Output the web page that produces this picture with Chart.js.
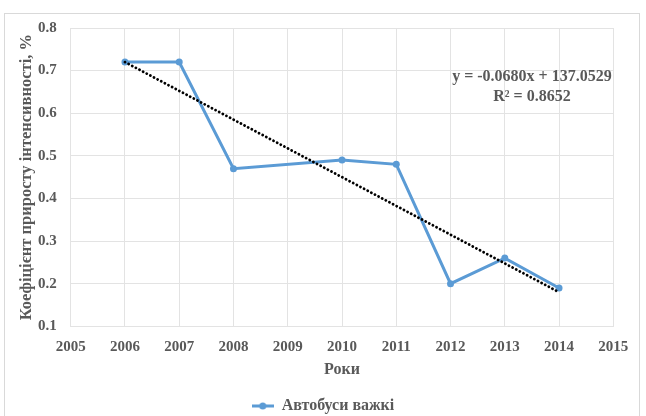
<!DOCTYPE html>
<html>
<head>
<meta charset="utf-8">
<script src="https://cdn.jsdelivr.net/npm/chart.js@4"></script>
<style>
    body { margin: 0; background: #fff; }
    #wrap { position: relative; width: 646px; height: 416px; overflow: hidden; }
    #frame { position: absolute; left: 4px; top: 13px; width: 636px; height: 420px; border: 1px solid #d9d9d9; box-sizing: border-box; }
    #chart { position: absolute; left: 0; top: 0; }
</style>
</head>
<body>
<div id="wrap">
    <div id="frame"></div>
    <canvas id="chart" width="646" height="416"></canvas>
</div>
<script>
const years = [2006, 2007, 2008, 2010, 2011, 2012, 2013, 2014];
const values = [0.72, 0.72, 0.47, 0.49, 0.48, 0.20, 0.26, 0.19];
const trendYears = [2006, 2014];
const trendValues = [0.72, 0.18];
const equationLines = ['y = -0.0680x + 137.0529', 'R² = 0.8652'];
const seriesName = 'Автобуси важкі';

const textColor = '#595959';
const gridColor = '#e3e3e3';
const lineColor = '#5b9bd5';
const fontFamily = "'Liberation Serif', 'Times New Roman', serif";

function legendMarker() {
    const c = document.createElement('canvas');
    c.width = 22;
    c.height = 8;
    const ctx = c.getContext('2d');
    ctx.strokeStyle = lineColor;
    ctx.lineWidth = 3;
    ctx.beginPath();
    ctx.moveTo(0, 4);
    ctx.lineTo(22, 4);
    ctx.stroke();
    ctx.fillStyle = lineColor;
    ctx.beginPath();
    ctx.arc(11, 4, 3.5, 0, Math.PI * 2);
    ctx.fill();
    return c;
}

// Підпис рівняння тренду
const equationPlugin = {
    id: 'equation',
    afterDatasetsDraw(chart) {
        const ctx = chart.ctx;
        const x = chart.scales.x.getPixelForValue(2013.5);
        const y = chart.scales.y.getPixelForValue(0.685);
        ctx.save();
        ctx.fillStyle = textColor;
        ctx.font = 'bold 16px ' + fontFamily;
        ctx.textAlign = 'center';
        ctx.textBaseline = 'middle';
        equationLines.forEach(function(line, i) {
            ctx.fillText(line, x, y + i * 20);
        });
        ctx.restore();
    }
};

const data = {
    datasets: [{
        label: 'trend',
        data: trendYears.map(function(yr, i) { return { x: yr, y: trendValues[i] }; }),
        borderColor: '#000',
        borderWidth: 2.8,
        borderDash: [0.1, 4],
        borderCapStyle: 'round',
        pointRadius: 0,
        fill: false,
        order: 0
    }, {
        label: seriesName,
        data: years.map(function(yr, i) { return { x: yr, y: values[i] }; }),
        borderColor: lineColor,
        backgroundColor: lineColor,
        borderWidth: 3,
        pointRadius: 3.5,
        pointBorderWidth: 0,
        pointBackgroundColor: lineColor,
        fill: false,
        tension: 0,
        order: 1
    }]
};

new Chart(document.getElementById('chart'), {
    type: 'line',
    data: data,
    plugins: [equationPlugin],
    options: {
        responsive: false,
        animation: false,
        layout: { padding: { top: 28, right: 0, left: 0, bottom: -8 } },
        plugins: {
            tooltip: { enabled: false },
            legend: {
                position: 'bottom',
                labels: {
                    color: textColor,
                    font: { family: fontFamily, size: 16, weight: 'bold' },
                    padding: 6,
                    usePointStyle: true,
                    pointStyleWidth: 22,
                    filter: function(item) { return item.text !== 'trend'; },
                    generateLabels: function(chart) {
                        const items = Chart.defaults.plugins.legend.labels.generateLabels(chart);
                        items.forEach(function(item) { item.pointStyle = legendMarker(); });
                        return items;
                    }
                }
            }
        },
        scales: {
            x: {
                type: 'linear',
                min: 2005,
                max: 2015,
                afterFit: function(scale) { scale.height = 65.7; },
                ticks: {
                    stepSize: 1,
                    color: textColor,
                    padding: 12,
                    font: { family: fontFamily, size: 15, weight: 'bold' },
                    callback: function(v) { return String(v); }
                },
                grid: { color: gridColor, drawTicks: false },
                border: { color: gridColor },
                title: {
                    display: true,
                    text: 'Роки',
                    color: textColor,
                    font: { family: fontFamily, size: 16, weight: 'bold' },
                    padding: { top: 0, bottom: 12.7 }
                }
            },
            y: {
                min: 0.1,
                max: 0.8,
                afterFit: function(scale) { scale.width = 70.7; },
                ticks: {
                    stepSize: 0.1,
                    color: textColor,
                    padding: 14,
                    font: { family: fontFamily, size: 15, weight: 'bold' },
                    callback: function(v) { return v.toFixed(1); }
                },
                grid: { color: gridColor, drawTicks: false },
                border: { color: gridColor },
                title: {
                    display: true,
                    text: 'Коефіцієнт приросту інтенсивності, %',
                    color: textColor,
                    font: { family: fontFamily, size: 16.5, weight: 'bold' },
                    padding: { top: 17, bottom: 0 }
                }
            },
            // порожня права вісь лише тримає відступ справа
            yRight: {
                position: 'right',
                afterFit: function(scale) { scale.width = 32.7; },
                ticks: { display: false },
                grid: { display: false },
                border: { display: false }
            }
        }
    }
});
</script>
</body>
</html>
